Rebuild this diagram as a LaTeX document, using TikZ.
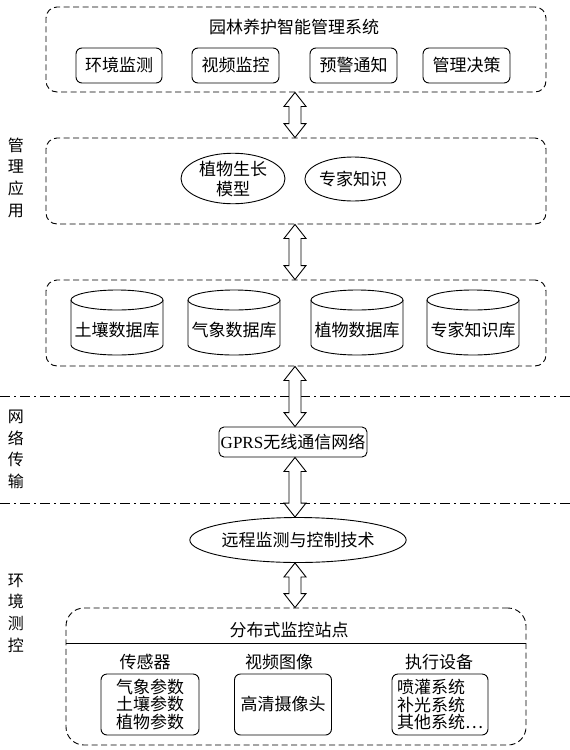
\documentclass[tikz,border=0pt]{standalone}
\usepackage{fontspec}
\setmainfont{Noto Sans CJK SC}
\newfontfamily\latinserif{Liberation Serif}
\usetikzlibrary{shapes.geometric,calc}
\newcommand\biarrow[2]{\path[dblarrow] let \p1=(#1), \p2=(#2) in
 (295pt,\y1) -- (306pt,\y1-14pt) -- (301pt,\y1-14pt) -- (301pt,\y2+14pt) -- (306pt,\y2+14pt) -- (295pt,\y2) -- (284pt,\y2+14pt) -- (289pt,\y2+14pt) -- (289pt,\y1-14pt) -- (284pt,\y1-14pt) -- cycle;}
\begin{document}
\begin{tikzpicture}[x=1pt,y=-1pt,
  every node/.style={font=\fontsize{17}{17.5}\selectfont, inner sep=0pt},
  dbox/.style={draw, dash pattern=on 6pt off 3.5pt, rounded corners=11pt, line width=0.9pt},
  ibox/.style={draw, rounded corners=6pt, line width=0.9pt},
  oval/.style={draw, ellipse, line width=0.9pt},
  sidelabel/.style={align=center, font=\fontsize{16}{21.7}\selectfont},
  ddline/.style={line width=0.9pt, dash pattern=on 10pt off 4pt on 2pt off 4pt},
  dblarrow/.style={draw, line width=0.9pt, fill=white},
  cylline/.style={line width=0.9pt}]
\fill[white] (0,0) rectangle (570,750);
\useasboundingbox (0,0) rectangle (570,750);

% top system box
\node[dbox, minimum width=500pt, minimum height=85pt] (sys) at (296,49.5) {};
\node (systitle) at (294,27) {园林养护智能管理系统};
\node[ibox, minimum width=86pt, minimum height=35pt] (m1) at (119,65.5) {环境监测};
\node[ibox, minimum width=87pt, minimum height=35pt] (m2) at (235.5,65.5) {视频监控};
\node[ibox, minimum width=87pt, minimum height=35pt] (m3) at (353.5,65.5) {预警通知};
\node[ibox, minimum width=87pt, minimum height=35pt] (m4) at (466.5,65.5) {管理决策};

% application box
\node[dbox, minimum width=500pt, minimum height=86pt] (app) at (296,181) {};
\node[oval, minimum width=104pt, minimum height=47pt, align=center, font=\fontsize{17}{20}\selectfont] (growth) at (233,178.5) {植物生长\\模型};
\node[oval, minimum width=78pt, minimum height=44pt] (expert) at (353,179) {专家知识};

% database box
\node[dbox, minimum width=500pt, minimum height=86pt] (dbs) at (296,323) {};
\foreach \n/\cx/\t in {db1/117/土壤数据库, db2/234/气象数据库, db3/357/植物数据库, db4/473/专家知识库}{
  \draw[cylline] (\cx,300) ellipse [x radius=46pt, y radius=10pt];
  \draw[cylline] (\cx-46,300) -- (\cx-46,345) arc[start angle=180, end angle=360, x radius=46pt, y radius=10pt] -- (\cx+46,300);
  \node (\n) at (\cx,330) {\t};
}

% separator lines
\coordinate (l1a) at (0,396);
\coordinate (l1b) at (570,396);
\coordinate (l2a) at (0,503);
\coordinate (l2b) at (570,503);
\draw[ddline] (l1a) -- (l1b);
\draw[ddline] (l2a) -- (l2b);

% network
\node[ibox, rounded corners=5pt, minimum width=148pt, minimum height=30pt] (gprs) at (293,442) {{\latinserif GPRS}无线通信网络};
\node[oval, minimum width=211pt, minimum height=45pt] (remote) at (298,540) {远程监测与控制技术};

% station
\node[dbox, rounded corners=18pt, minimum width=460pt, minimum height=137pt] (station) at (296,676.5) {};
\node (sttitle) at (289,630) {分布式监控站点};
\coordinate (sepL) at (66,643);
\coordinate (sepR) at (526,643);
\draw[line width=0.9pt] (sepL) -- (sepR);
\node (h1) at (145,662) {传感器};
\node (h2) at (279,662) {视频图像};
\node (h3) at (439,662) {执行设备};
\node[ibox, minimum width=98pt, minimum height=61pt, align=center] (sA) at (150,704.5) {气象参数\\土壤参数\\植物参数};
\node[ibox, minimum width=97pt, minimum height=61pt] (sB) at (283,704.5) {高清摄像头};
\node[ibox, minimum width=96pt, minimum height=61pt, align=left] (sC) at (440,704.5) {喷灌系统\\补光系统\\其他系统…};

% side labels
\node[sidelabel] (lab1) at (16,177.5) {管\\理\\应\\用};
\node[sidelabel] (lab2) at (16,449.5) {网\\络\\传\\输};
\node[sidelabel] (lab3) at (16,613) {环\\境\\测\\控};

% arrows
\biarrow{sys.south}{app.north}
\biarrow{app.south}{dbs.north}
\biarrow{dbs.south}{gprs.north}
\biarrow{gprs.south}{remote.north}
\biarrow{remote.south}{station.north}
\end{tikzpicture}
\end{document}
